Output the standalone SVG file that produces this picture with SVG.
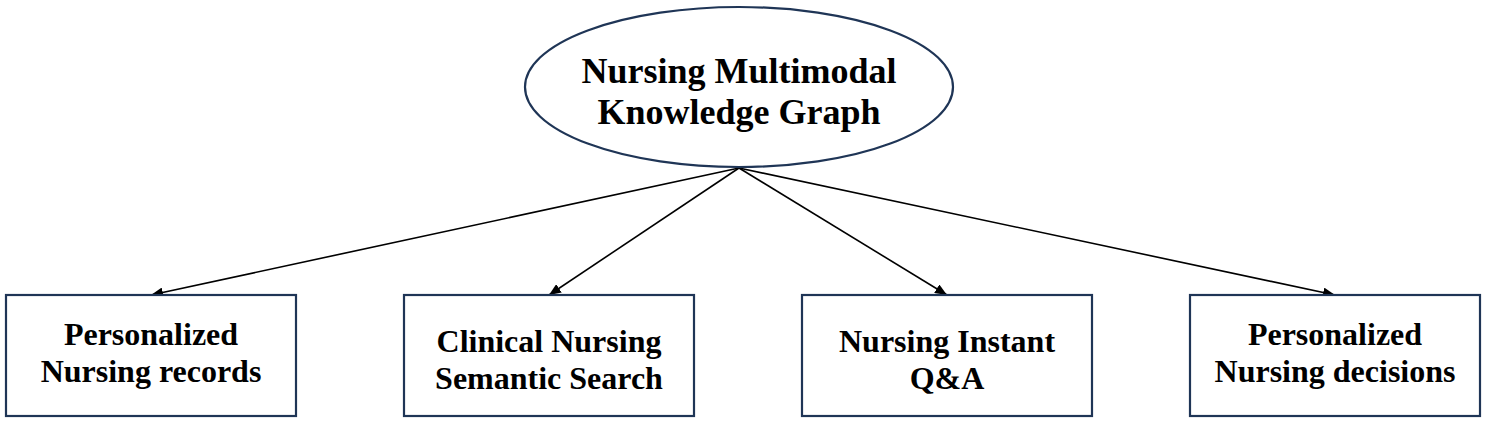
<svg xmlns="http://www.w3.org/2000/svg" width="1485" height="422" viewBox="0 0 1485 422">
<defs>
<style>
.node{fill:#fff;stroke:#1f3556;stroke-width:2.2}
.t{font-family:"Liberation Serif","Times New Roman",serif;font-weight:bold;fill:#000;text-anchor:middle}
.big{font-size:36px}
.sm{font-size:32px}
.edge{stroke:#000;stroke-width:1.6;fill:none;marker-end:url(#ah)}
</style>
<marker id="ah" viewBox="0 0 12 10" refX="12" refY="5" markerWidth="12" markerHeight="10" markerUnits="userSpaceOnUse" orient="auto">
<path d="M0,0 L12,5 L0,10 z" fill="#000"/>
</marker>
</defs>
<rect width="1485" height="422" fill="#fff"/>
<g id="connectors">
<line class="edge" x1="739" y1="168" x2="151" y2="295"/>
<line class="edge" x1="739" y1="168" x2="549" y2="295"/>
<line class="edge" x1="739" y1="168" x2="947" y2="295"/>
<line class="edge" x1="739" y1="168" x2="1335" y2="295"/>
</g>
<g id="root">
<ellipse class="node" cx="739" cy="87" rx="214" ry="80"/>
<text class="t big" x="739" y="83">Nursing Multimodal</text>
<text class="t big" x="739" y="124">Knowledge Graph</text>
</g>
<g id="n1">
<rect class="node" x="6" y="295" width="290" height="121"/>
<text class="t sm" x="151" y="345">Personalized</text>
<text class="t sm" x="151" y="382">Nursing records</text>
</g>
<g id="n2">
<rect class="node" x="404" y="295" width="290" height="121"/>
<text class="t sm" x="549" y="352">Clinical Nursing</text>
<text class="t sm" x="549" y="389">Semantic Search</text>
</g>
<g id="n3">
<rect class="node" x="802" y="295" width="290" height="121"/>
<text class="t sm" x="947" y="352">Nursing Instant</text>
<text class="t sm" x="947" y="389">Q&amp;A</text>
</g>
<g id="n4">
<rect class="node" x="1190" y="295" width="290" height="121"/>
<text class="t sm" x="1335" y="345">Personalized</text>
<text class="t sm" x="1335" y="382">Nursing decisions</text>
</g>
</svg>
